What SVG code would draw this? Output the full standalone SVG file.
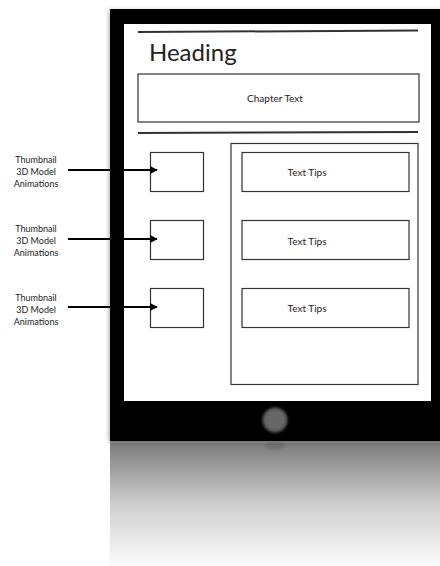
<svg xmlns="http://www.w3.org/2000/svg" width="440" height="566" viewBox="0 0 440 566">
<style>
.box{fill:#fff;stroke:#333;stroke-width:1.2}
.rule{stroke:#333;stroke-width:2}
.lbl{font-family:Lato,"Liberation Sans",sans-serif;fill:#222}
.small{font-size:9px;text-anchor:middle}
.tip{font-size:10px;text-anchor:middle}
.arrow{stroke:#000;stroke-width:2;fill:none}
</style>
<defs>
<marker id="ah" viewBox="0 0 10 10" refX="9" refY="5" markerWidth="8" markerHeight="8" markerUnits="userSpaceOnUse" orient="auto">
<path d="M0,0 L10,5 L0,10 z" fill="#000"/>
</marker>
<linearGradient id="refl" x1="0" y1="0" x2="0" y2="1">
<stop offset="0" stop-color="#7c7c7c"/>
<stop offset="0.5" stop-color="#cfcfcf"/>
<stop offset="1" stop-color="#fbfbfb"/>
</linearGradient>
<radialGradient id="btn" cx="0.5" cy="0.5" r="0.5">
<stop offset="0.75" stop-color="#666"/>
<stop offset="1" stop-color="#333"/>
</radialGradient>
<filter id="sh" x="-10%" y="-10%" width="120%" height="120%">
<feDropShadow dx="-1" dy="1" stdDeviation="2" flood-color="#000" flood-opacity="0.35"/>
</filter>
<filter id="blur"><feGaussianBlur stdDeviation="0.8"/></filter>
</defs>
<rect width="440" height="566" fill="#fff"/>
<g id="tablet">
<rect x="110" y="443" width="330" height="123" fill="url(#refl)"/>
<rect x="110" y="441" width="330" height="2" fill="#999"/>
<ellipse cx="275" cy="446" rx="10" ry="4" fill="#555" opacity="0.35" filter="url(#blur)"/>
<rect x="110" y="9" width="340" height="432" fill="#000" filter="url(#sh)"/>
<rect x="124" y="24" width="307" height="377" fill="#fff"/>
<circle cx="275" cy="420" r="13" fill="url(#btn)" filter="url(#blur)"/>
</g>
<g id="heading">
<line class="rule" x1="138" y1="32" x2="418" y2="30.5"/>
<text class="lbl" x="149" y="61" font-size="24">Heading</text>
</g>
<g id="chapter">
<rect class="box" x="138" y="74" width="281" height="48"/>
<text class="lbl tip" x="275" y="102">Chapter Text</text>
</g>
<line class="rule" x1="138" y1="133" x2="418" y2="132"/>
<g id="panel"><rect class="box" x="231" y="143.5" width="187" height="241"/></g>
<g id="tip1"><rect class="box" x="242" y="152.5" width="167" height="39"/><text class="lbl tip" x="307" y="176">Text Tips</text></g>
<g id="tip2"><rect class="box" x="242" y="220.5" width="167" height="39"/><text class="lbl tip" x="307" y="245">Text Tips</text></g>
<g id="tip3"><rect class="box" x="242" y="288.5" width="167" height="39"/><text class="lbl tip" x="307" y="312">Text Tips</text></g>
<g id="thumb1"><rect class="box" x="150.5" y="152.5" width="53" height="39"/></g>
<g id="thumb2"><rect class="box" x="150.5" y="220.5" width="53" height="39"/></g>
<g id="thumb3"><rect class="box" x="150.5" y="288.5" width="53" height="39"/></g>
<g id="label1" class="lbl small"><text x="36" y="163">Thumbnail</text><text x="36" y="175">3D Model</text><text x="36" y="187">Animations</text></g>
<g id="label2" class="lbl small"><text x="36" y="232">Thumbnail</text><text x="36" y="244">3D Model</text><text x="36" y="256">Animations</text></g>
<g id="label3" class="lbl small"><text x="36" y="301">Thumbnail</text><text x="36" y="313">3D Model</text><text x="36" y="325">Animations</text></g>
<g id="connectors">
<line class="arrow" x1="68" y1="170" x2="157" y2="170" marker-end="url(#ah)"/>
<line class="arrow" x1="68" y1="239" x2="157" y2="239" marker-end="url(#ah)"/>
<line class="arrow" x1="68" y1="307" x2="157" y2="307" marker-end="url(#ah)"/>
</g>
</svg>
